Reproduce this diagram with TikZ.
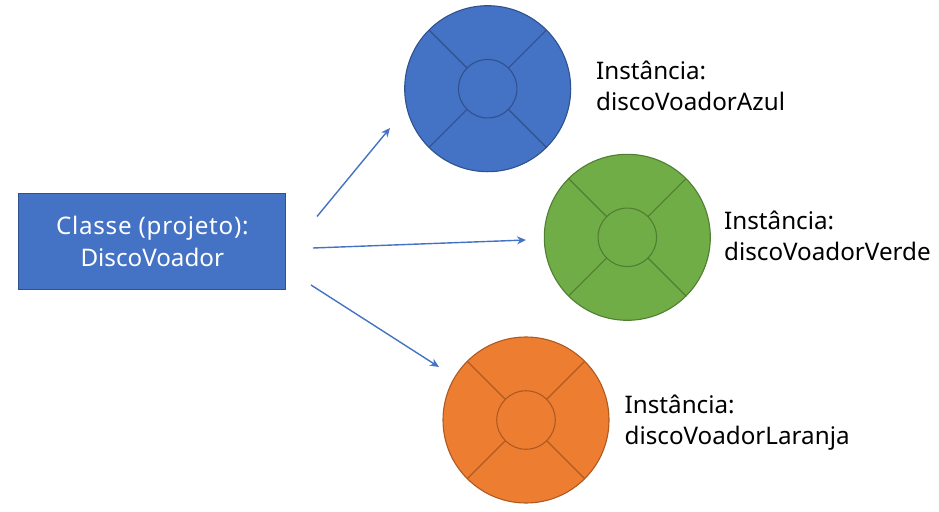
\documentclass[tikz,border=0pt]{standalone}
\usepackage{fontspec}
\setmainfont{Noto Sans}
\definecolor{azul}{HTML}{4472C4}
\definecolor{azulE}{HTML}{2F528F}
\definecolor{verde}{HTML}{70AD47}
\definecolor{verdeE}{HTML}{507E32}
\definecolor{laranja}{HTML}{ED7D31}
\definecolor{laranjaE}{HTML}{AE5A21}
\usetikzlibrary{arrows.meta}
\tikzset{
  disco/.style={circle,draw,line width=1.1pt,minimum size=166pt,inner sep=0pt,outer sep=0pt},
  miolo/.style={circle,draw,line width=1.1pt,minimum size=58.5pt,inner sep=0pt,outer sep=0pt},
  raio/.style={line width=1.1pt},
  seta/.style={draw=azul,line width=1.4pt,-{Stealth[length=9pt,width=8pt]}},
  rotulo/.style={anchor=north west,align=left,inner sep=0pt,font=\fontsize{24.2}{31}\selectfont,text=black},
}
\begin{document}
\begin{tikzpicture}[x=1pt,y=-1pt]
\useasboundingbox (0,0) rectangle (939,511);
\node[draw=azulE,fill=azul,line width=1.1pt,minimum width=267pt,minimum height=96pt,inner sep=0pt,outer sep=0pt,text=white,align=center,font=\fontsize{24.2}{32}\selectfont] (classe) at (152.3,241.5) {\addfontfeature{LetterSpace=3}Classe (projeto):\\DiscoVoador};
\foreach \n/\cx/\cy/\f/\e in {az/487.7/88.7/azul/azulE,vd/627.3/237.3/verde/verdeE,lj/526/420/laranja/laranjaE}{
  \node[disco,fill=\f,draw=\e] (\n) at (\cx,\cy) {};
  \node[miolo,draw=\e] (\n i) at (\cx,\cy) {};
  \foreach \a in {45,135,225,315}{
    \draw[raio,draw=\e] (\n.\a) -- (\n i.\a);
  }
}
\coordinate (s1) at (317,216.5);
\coordinate (e1) at (390,128);
\coordinate (s2) at (313,248);
\coordinate (e2) at (526,240);
\coordinate (s3) at (311,285);
\coordinate (e3) at (439,367);
\draw[seta] (s1) -- (e1);
\draw[seta] (s2) -- (e2);
\draw[seta] (s3) -- (e3);
\node[rotulo] (t1) at (596,61) {Instância:\\discoVoadorAzul};
\node[rotulo] (t2) at (724,211) {Instância:\\discoVoadorVerde};
\node[rotulo] (t3) at (624.5,395) {Instância:\\discoVoadorLaranja};
\end{tikzpicture}
\end{document}
